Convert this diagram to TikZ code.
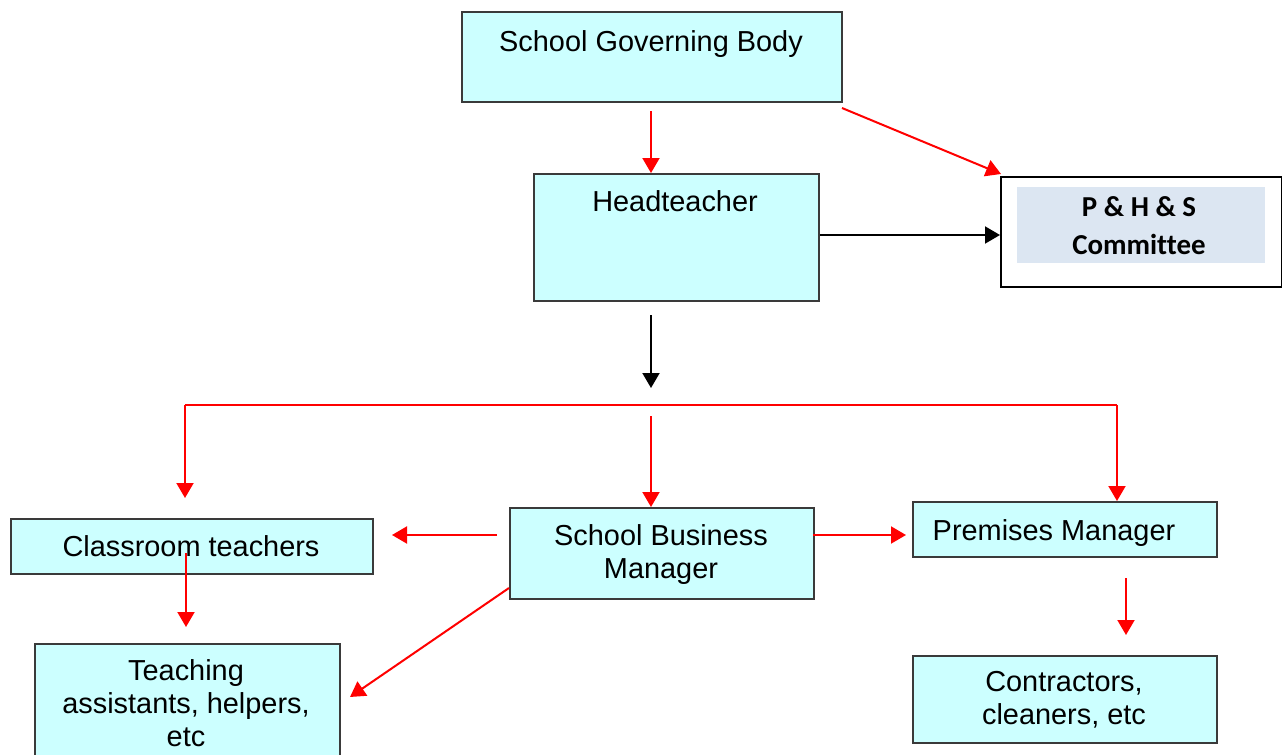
\documentclass[tikz,border=0pt]{standalone}
\usepackage{fontspec}
\setmainfont{Liberation Sans}
\newfontfamily\calib[Ligatures=CommonOff]{Carlito}
\usetikzlibrary{arrows.meta,calc}
\definecolor{boxfill}{HTML}{CCFFFF}
\definecolor{boxline}{HTML}{3A3A3A}
\definecolor{phsfill}{HTML}{DCE6F2}
\definecolor{arrred}{HTML}{FF0000}
\tikzset{
  orgbox/.style={draw=boxline, line width=1pt, fill=boxfill, inner sep=0pt, anchor=north west},
  txt/.style={inner sep=0pt, font=\fontsize{14.45}{16.5}\selectfont, align=center},
  redarrow/.style={draw=arrred, line width=1pt, -{Triangle[length=7.5pt,width=8.5pt]}},
  redline/.style={draw=arrred, line width=1pt},
  blackarrow/.style={draw=black, line width=1pt, -{Triangle[length=7.5pt,width=8.5pt]}}
}
\begin{document}
\begin{tikzpicture}[x=0.5pt,y=-0.5pt]
\useasboundingbox (0,0) rectangle (1282,755);
\clip (0,0) rectangle (1282,755);
% boxes
\node[orgbox, minimum width=190pt, minimum height=45pt] (sgb) at (461,11) {};
\node[orgbox, minimum width=142.5pt, minimum height=63.5pt] (ht) at (533,173) {};
\node[draw=black, line width=1pt, fill=white, inner sep=0pt, anchor=north west, minimum width=140.5pt, minimum height=55pt] (phs) at (1000,176) {};
\node[fill=phsfill, inner sep=0pt, anchor=north west, minimum width=124pt, minimum height=38pt] (phsin) at (1017,187) {};
\node[orgbox, minimum width=181pt, minimum height=27.5pt] (ct) at (10,518) {};
\node[orgbox, minimum width=152pt, minimum height=45.5pt] (sbm) at (509,507) {};
\node[orgbox, minimum width=152pt, minimum height=27.5pt] (pm) at (912,501) {};
\node[orgbox, minimum width=152pt, minimum height=43.5pt] (con) at (912,655) {};
\node[orgbox, minimum width=152.5pt, minimum height=65pt] (ta) at (34,643) {};
% texts
\node[txt, anchor=base] (sgbt) at (651,51) {School Governing Body};
\node[txt, anchor=base] (htt) at (675,211) {Headteacher};
\node[inner sep=0pt, align=center, font=\calib\bfseries\fontsize{14.45}{19}\selectfont] (phst) at (1139,226) {P \& H \& S\\Committee};
\node[txt, anchor=base] (ctt) at (191,556) {Classroom teachers};
\node[txt] (sbmt) at (661,555) {School Business\\Manager};
\node[txt, anchor=base] (pmt) at (1054,540) {Premises Manager};
\node[txt] (cont) at (1064,700) {Contractors,\\cleaners, etc};
\node[txt] (tat) at (186,703) {Teaching\\assistants, helpers,\\etc};
% connector coordinates
\coordinate (sgbout) at (651,111);
\coordinate (htout) at (651,315);
\coordinate (htdown) at (651,388);
\coordinate (busL) at (185,405);
\coordinate (busR) at (1117,405);
\coordinate (busM) at (651,416);
\coordinate (ctin) at (185,498);
\coordinate (sbmL) at (497,535);
\coordinate (ctR) at (392,535);
\coordinate (sbmR) at (813,535);
\coordinate (pmL) at (906,535);
\coordinate (ctdown) at (186,553);
\coordinate (tain) at (186,627);
\coordinate (sbmdiag) at (509,588);
\coordinate (taR) at (350,697);
\coordinate (pmdown) at (1126,578);
\coordinate (conin) at (1126,635);
% connectors
\draw[redarrow] (sgbout) -- (sgbout |- ht.north);
\draw[redarrow] ($(sgb.south east)+(-1,5)$) -- ($(phs.north west)+(1,-2)$);
\draw[blackarrow] (ht.east |- 0,235) -- (phs.west |- 0,235);
\draw[blackarrow] (htout) -- (htdown);
\draw[redline] (busL) -- (busR);
\draw[redarrow] (busL) -- (ctin);
\draw[redarrow] (busR) -- (busR |- pm.north);
\draw[redarrow] (busM) -- (busM |- sbm.north);
\draw[redarrow] (sbmL) -- (ctR);
\draw[redarrow] (sbmR) -- (pmL);
\draw[redarrow] (ctdown) -- (tain);
\draw[redarrow] (sbmdiag) -- (taR);
\draw[redarrow] (pmdown) -- (conin);
\end{tikzpicture}
\end{document}
